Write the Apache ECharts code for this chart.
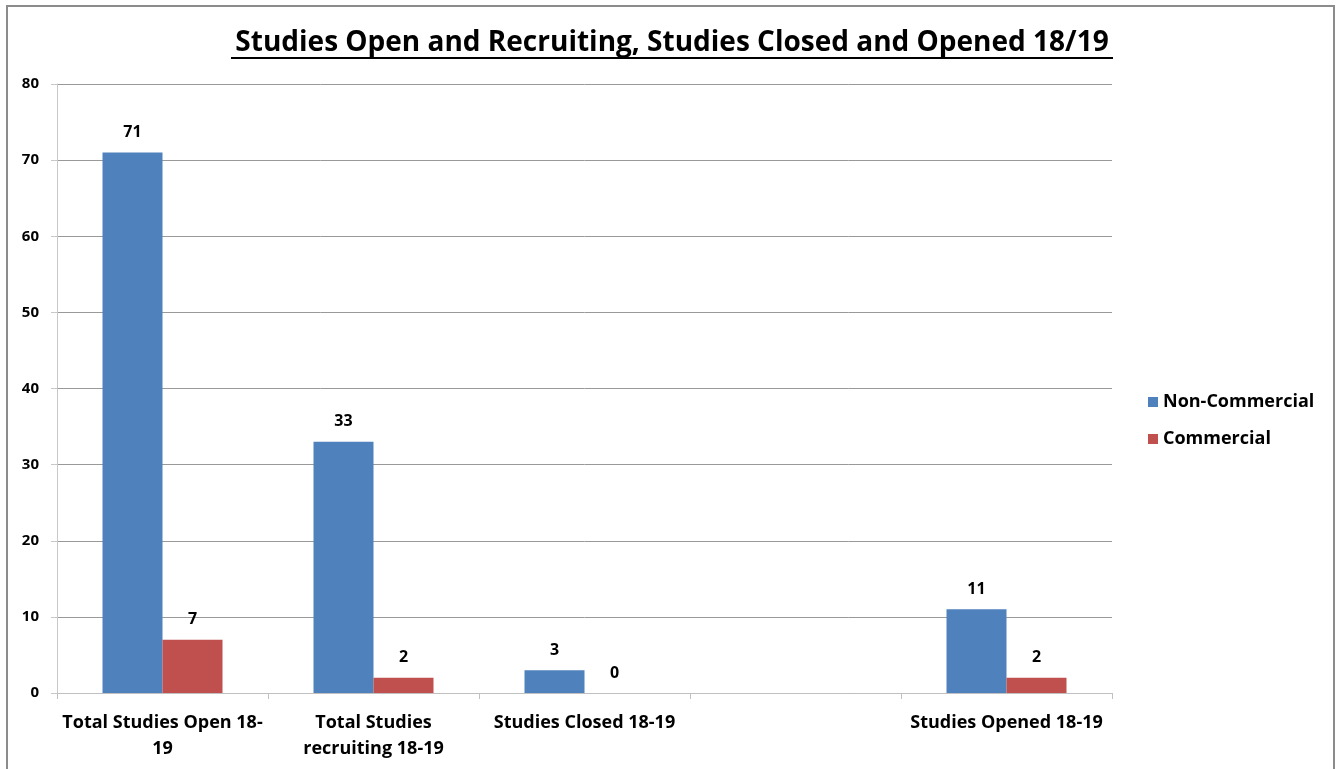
<!DOCTYPE html>
<html>
<head>
<meta charset="utf-8">
<script src="https://cdn.jsdelivr.net/npm/echarts@6/dist/echarts.min.js"></script>
<style>
  html, body { margin: 0; padding: 0; background: #fff; }
  #frame {
    position: absolute; left: 6px; top: 5px; width: 1329px; height: 780px;
    border: 2px solid #8c8c8c; box-sizing: border-box;
  }
  #chart { position: absolute; left: 0; top: 0; width: 1343px; height: 769px; }
</style>
</head>
<body>
<div id="frame"></div>
<div id="chart"></div>
<script>
  const categories = [
    "Total Studies Open 18-\n19",
    "Total Studies\nrecruiting 18-19",
    "Studies Closed 18-19",
    "",
    "Studies Opened 18-19",
  ];
  const nonCommercial = [71, 33, 3, null, 11];
  const commercial = [7, 2, 0, null, 2];
  const yTicks = { min: 0, max: 80, interval: 10 };

  const font = "Open Sans";
  const chart = echarts.init(document.getElementById("chart"));

  const labelStyle = {
    show: true,
    position: "top",
    distance: 12,
    color: "#000",
    fontFamily: font,
    fontWeight: "bold",
    fontSize: 16,
  };

  chart.setOption({
    animation: false,
    title: {
      text: "Studies Open and Recruiting, Studies Closed and Opened 18/19",
      left: 667,
      textAlign: "center",
      top: 24,
      textStyle: {
        fontFamily: font,
        fontWeight: "bold",
        fontSize: 28,
        color: "#000",
      },
    },
    graphic: [
      // underline of the title
      {
        type: "line",
        shape: { x1: 231, y1: 58, x2: 1113, y2: 58 },
        style: { stroke: "#000", lineWidth: 2 },
      },
    ],
    legend: {
      orient: "vertical",
      left: 1143,
      top: 388,
      itemWidth: 10,
      itemHeight: 10,
      itemGap: 19,
      icon: "rect",
      textStyle: {
        fontFamily: font,
        fontWeight: "bold",
        fontSize: 18,
        color: "#000",
      },
    },
    grid: { left: 57, right: 231, top: 84, bottom: 76, containLabel: false },
    xAxis: {
      type: "category",
      data: categories,
      axisLine: { lineStyle: { color: "#c0c0c0", width: 1 } },
      axisTick: { show: true, length: 6, lineStyle: { color: "#c0c0c0" } },
      axisLabel: {
        interval: 0,
        margin: 17,
        color: "#000",
        fontFamily: font,
        fontWeight: "bold",
        fontSize: 18,
        lineHeight: 26,
      },
    },
    yAxis: {
      type: "value",
      min: yTicks.min,
      max: yTicks.max,
      interval: yTicks.interval,
      axisLine: { show: true, lineStyle: { color: "#c8c8c8" } },
      axisTick: { show: true, length: 6, lineStyle: { color: "#c8c8c8" } },
      splitLine: { lineStyle: { color: "#999", width: 1 } },
      axisLabel: {
        margin: 18,
        color: "#000",
        fontFamily: font,
        fontWeight: "bold",
        fontSize: 15,
      },
    },
    series: [
      {
        name: "Non-Commercial",
        type: "bar",
        data: nonCommercial,
        barWidth: 60,
        barGap: "0%",
        itemStyle: { color: "#4f81bd" },
        label: labelStyle,
      },
      {
        name: "Commercial",
        type: "bar",
        data: commercial,
        barWidth: 60,
        itemStyle: { color: "#c0504d" },
        label: labelStyle,
      },
    ],
  });
</script>
</body>
</html>
